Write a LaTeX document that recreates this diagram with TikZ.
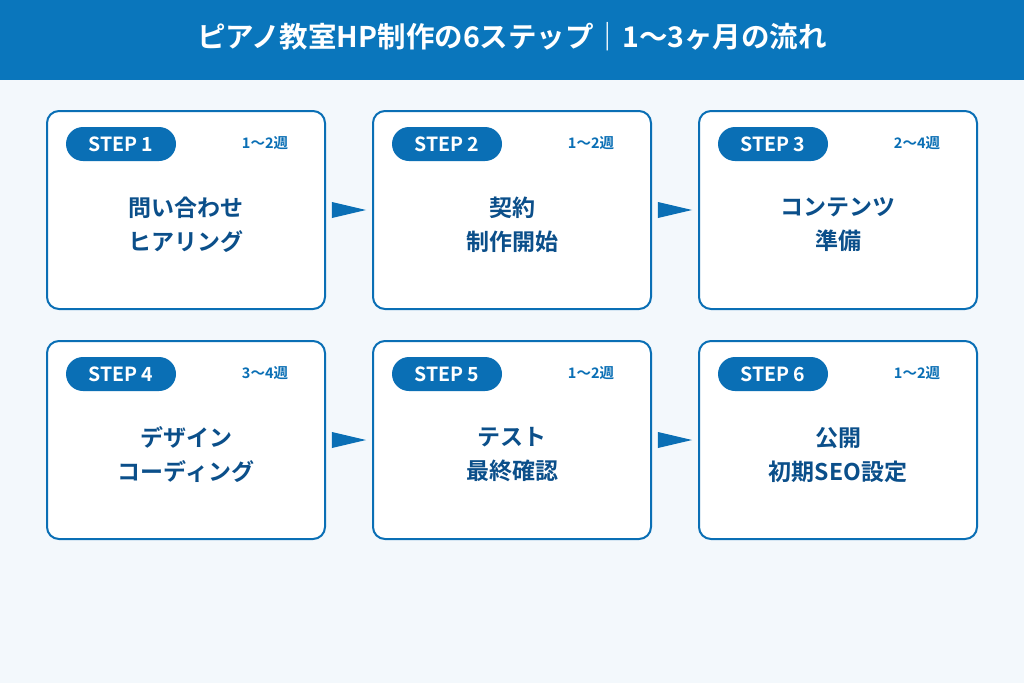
\documentclass[tikz,border=0pt]{standalone}
\usepackage{fontspec}
\setmainfont{Noto Sans CJK JP}[BoldFont={* Bold}]
\newfontfamily\jpb{Noto Sans CJK JP Bold}
\definecolor{hdr}{HTML}{0A76BC}
\definecolor{bg}{HTML}{F3F8FC}
\definecolor{bl}{HTML}{0A6FB5}
\definecolor{dk}{HTML}{0B4F8A}
\tikzset{
 x=1pt,y=-1pt,
 card/.style={draw=bl,line width=2pt,fill=white,rounded corners=12pt,minimum width=278pt,minimum height=198pt,inner sep=0pt},
 pill/.style={fill=bl,rounded corners=17pt,minimum width=110pt,minimum height=34pt,inner sep=0pt,text=white,font=\jpb\fontsize{19.5}{20}\selectfont},
 dur/.style={text=bl,font=\jpb\fontsize{14.5}{16}\selectfont,inner sep=0pt},
 main/.style={text=dk,font=\jpb\fontsize{23}{34}\selectfont,align=center,inner sep=0pt},
 arr/.style={fill=bl,draw=none}
}
\begin{document}
\begin{tikzpicture}
\useasboundingbox (0,0) rectangle (1024,683);
\fill[bg] (0,0) rectangle (1024,683);
\fill[hdr] (0,0) rectangle (1024,80);
\node[text=white,font=\jpb\fontsize{28.5}{30}\selectfont,inner sep=0pt] (title) at (512,37) {ピアノ教室HP制作の6ステップ｜1〜3ヶ月の流れ};
\foreach \i/\cx/\cy/\d/\t in {
 1/186/210/1〜2週/問い合わせ\\ヒアリング,
 2/512/210/1〜2週/契約\\制作開始,
 3/838/210/2〜4週/コンテンツ\\準備,
 4/186/440/3〜4週/デザイン\\コーディング,
 5/512/440/1〜2週/テスト\\最終確認,
 6/838/440/1〜2週/公開\\初期SEO設定}{
 \node[card] (c\i) at (\cx,\cy) {};
 \node[pill] (p\i) at (\cx-65,\cy-66) {STEP \i};
 \node[dur] (d\i) at (\cx+79,\cy-67) {\d};
 \node[main] (m\i) at (\cx,\cy+15) {\t};
}
\foreach \a/\b in {1/2,2/3,4/5,5/6}{
 \path (c\a.east) -- (c\b.west) coordinate[pos=0.13] (s\a) coordinate[pos=0.87] (e\a);
 \fill[arr] ([yshift=-8pt]s\a) -- ([yshift=8pt]s\a) -- (e\a) -- cycle;
}
\end{tikzpicture}
\end{document}
